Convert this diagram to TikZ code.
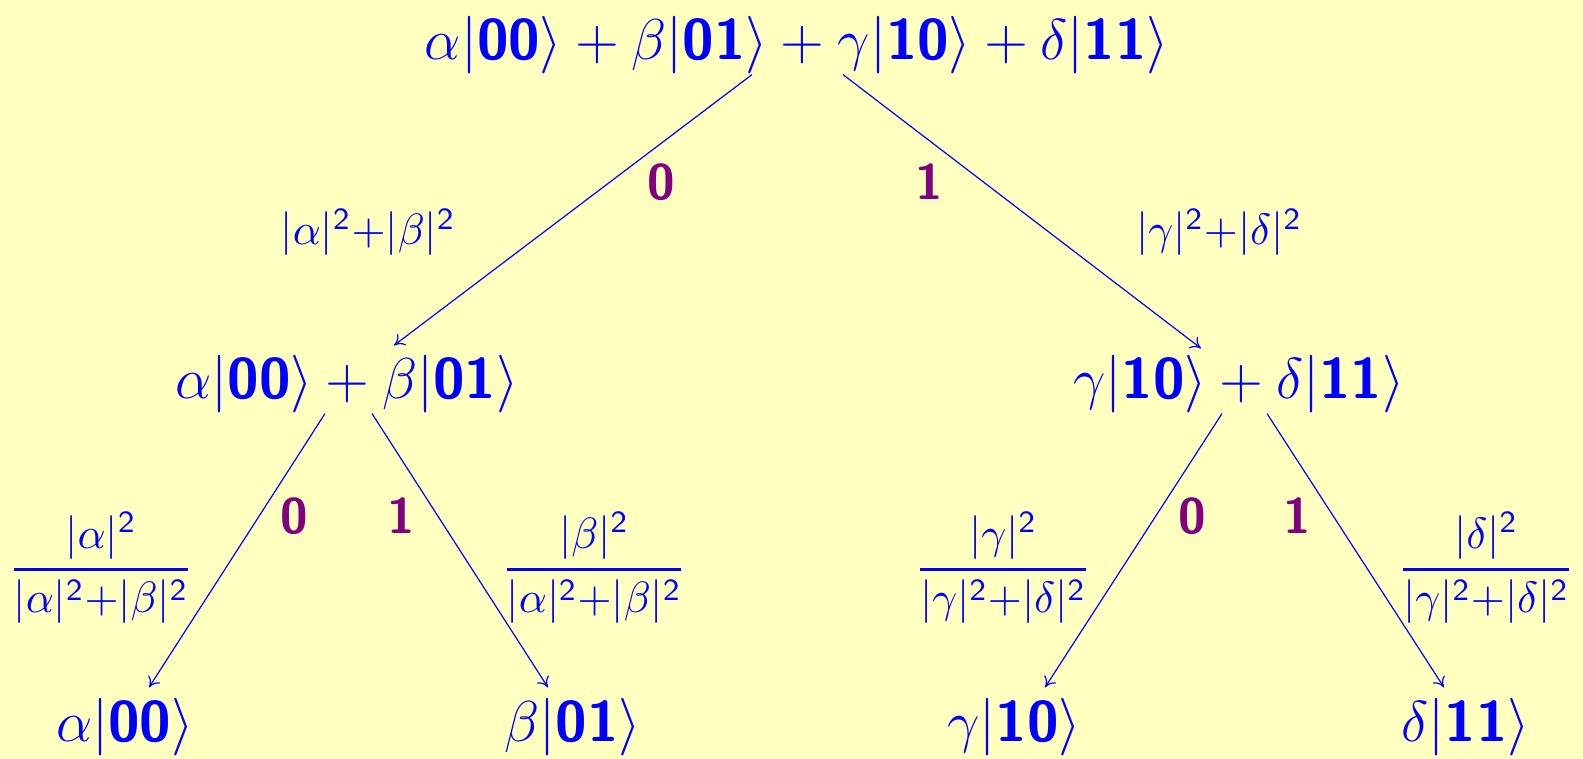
\documentclass[tikz,border=0pt]{standalone}
\usepackage{amsmath}
\usetikzlibrary{arrows.meta,calc}
\definecolor{bg}{RGB}{255,255,192}
\definecolor{kblue}{RGB}{0,0,255}
\definecolor{lpurple}{RGB}{128,0,128}
\newcommand{\kt}[1]{|\textsf{\bfseries #1}\rangle}
\newcommand{\sq}[1]{|#1|^{\textsf{2}}}
\newcommand{\pfrac}[2]{\genfrac{}{}{0.7pt}{0}{#1}{#2}}
\begin{document}
\begin{tikzpicture}[x=0.25pt,y=-0.25pt,
  state/.style={text=kblue, font=\fontsize{14.3}{16}\selectfont, inner sep=0pt},
  prob/.style={text=kblue, font=\fontsize{11}{13}\selectfont, inner sep=0pt},
  bit/.style={text=lpurple, font=\fontsize{12.5}{14}\selectfont\sffamily\bfseries, inner sep=0pt},
  edge/.style={draw=kblue, line width=0.3pt, -{To[length=2.5pt,width=3.5pt]}}]
\fill[bg] (0,0) rectangle (1583,759);
\useasboundingbox (0,0) rectangle (1583,759);
% nodes
\node[state] (r)  at (797,45)  {$\alpha\kt{00}+\beta\kt{01}+\gamma\kt{10}+\delta\kt{11}$};
\node[state] (l)  at (347,384) {$\alpha\kt{00}+\beta\kt{01}$};
\node[state] (rr) at (1239,384) {$\gamma\kt{10}+\delta\kt{11}$};
\node[state] (a)  at (125,727) {$\alpha\kt{00}$};
\node[state] (b)  at (573,727) {$\beta\kt{01}$};
\node[state] (c)  at (1014,727) {$\gamma\kt{10}$};
\node[state] (d)  at (1466,727) {$\delta\kt{11}$};
% edges
\draw[edge] ($(r.south)+(-45,0)$) -- ($(l.north)+(47,-9)$);
\draw[edge] ($(r.south)+(46,0)$) -- ($(rr.north)+(-38,-6)$);
\draw[edge] ($(l.south)+(-22,0)$) -- ($(a.north)+(24,-10)$);
\draw[edge] ($(l.south)+(25,0)$) -- ($(b.north)+(-25,-10)$);
\draw[edge] ($(rr.south)+(-17,0)$) -- ($(c.north)+(31,-10)$);
\draw[edge] ($(rr.south)+(28,0)$) -- ($(d.north)+(-22,-10)$);
% bit labels
\node[bit] (b1) at (661,182) {0};
\node[bit] (b2) at (929,182) {1};
\node[bit] (b3) at (294,516) {0};
\node[bit] (b4) at (401,516) {1};
\node[bit] (b5) at (1192,516) {0};
\node[bit] (b6) at (1297,516) {1};
% probabilities
\node[prob] (p1) at (368,232) {$\sq{\alpha}{+}\sq{\beta}$};
\node[prob] (p2) at (1219,232) {$\sq{\gamma}{+}\sq{\delta}$};
\node[prob] (p3) at (101,568) {$\pfrac{\sq{\alpha}}{\sq{\alpha}{+}\sq{\beta}}$};
\node[prob] (p4) at (594,568) {$\pfrac{\sq{\beta}}{\sq{\alpha}{+}\sq{\beta}}$};
\node[prob] (p5) at (1003,568) {$\pfrac{\sq{\gamma}}{\sq{\gamma}{+}\sq{\delta}}$};
\node[prob] (p6) at (1486,568) {$\pfrac{\sq{\delta}}{\sq{\gamma}{+}\sq{\delta}}$};
\end{tikzpicture}
\end{document}
